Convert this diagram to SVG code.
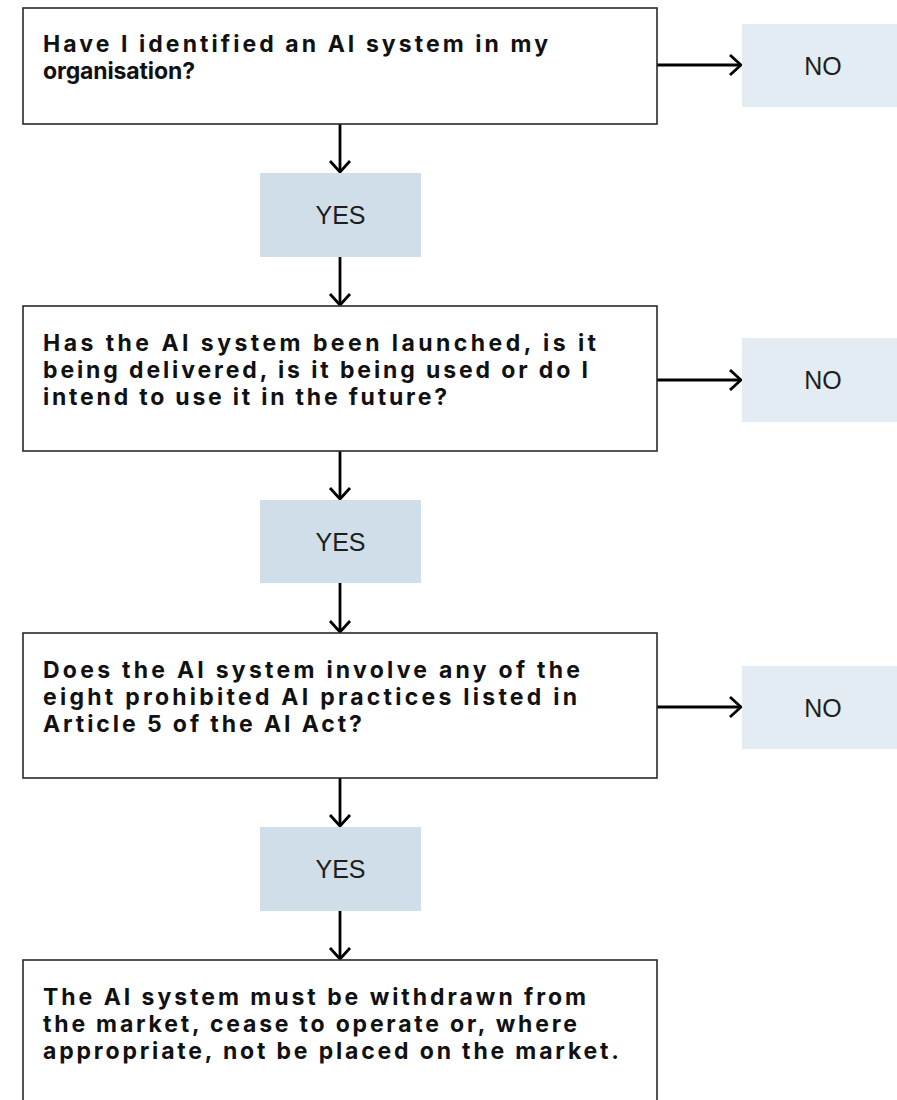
<svg xmlns="http://www.w3.org/2000/svg" width="897" height="1100" viewBox="0 0 897 1100">
<style>
.q{fill:#fff;stroke:#2a2a2a;stroke-width:1.6}
.yes{fill:#cfdee8}
.no{fill:#e4ecf3}
.qt{font-family:Inter,"Liberation Sans",sans-serif;font-weight:700;font-size:23px;fill:#111}
.lb{font-family:"Liberation Sans",Arial,sans-serif;font-size:25px;fill:#1e1e1e;text-anchor:middle}
.c{fill:none;stroke:#000;stroke-width:2.8}
</style>
<defs>
<marker id="ah" markerWidth="14" markerHeight="24" viewBox="-12 -11 14 22" refX="0" refY="0" orient="auto" markerUnits="userSpaceOnUse">
<path d="M-11,-10 L0,0 L-11,10" fill="none" stroke="#000" stroke-width="2.8"/>
</marker>
</defs>
<g id="connectors">
<path class="c" d="M340,124 V172" marker-end="url(#ah)"/>
<path class="c" d="M340,257 V305" marker-end="url(#ah)"/>
<path class="c" d="M340,451 V499" marker-end="url(#ah)"/>
<path class="c" d="M340,583 V632" marker-end="url(#ah)"/>
<path class="c" d="M340,778 V826" marker-end="url(#ah)"/>
<path class="c" d="M340,911 V959" marker-end="url(#ah)"/>
<path class="c" d="M657,65 H741" marker-end="url(#ah)"/>
<path class="c" d="M657,380 H741" marker-end="url(#ah)"/>
<path class="c" d="M657,707 H741" marker-end="url(#ah)"/>
</g>
<g id="q1">
<rect class="q" x="23" y="8" width="634" height="116"/>
<text class="qt" x="43" y="52" textLength="505">Have I identified an AI system in my</text>
<text class="qt" x="43" y="79" textLength="152">organisation?</text>
</g>
<g id="no1">
<rect class="no" x="742" y="24" width="162" height="83"/>
<text class="lb" x="823" y="74.5">NO</text>
</g>
<g id="yes1">
<rect class="yes" x="260" y="173" width="161" height="84"/>
<text class="lb" x="340.5" y="224">YES</text>
</g>
<g id="q2">
<rect class="q" x="23" y="306" width="634" height="145"/>
<text class="qt" x="43" y="351" textLength="553">Has the AI system been launched, is it</text>
<text class="qt" x="43" y="378" textLength="545">being delivered, is it being used or do I</text>
<text class="qt" x="43" y="405" textLength="404">intend to use it in the future?</text>
</g>
<g id="no2">
<rect class="no" x="742" y="338" width="162" height="84"/>
<text class="lb" x="823" y="389">NO</text>
</g>
<g id="yes2">
<rect class="yes" x="260" y="500" width="161" height="83"/>
<text class="lb" x="340.5" y="550.5">YES</text>
</g>
<g id="q3">
<rect class="q" x="23" y="633" width="634" height="145"/>
<text class="qt" x="43" y="678" textLength="537">Does the AI system involve any of the</text>
<text class="qt" x="43" y="705" textLength="534">eight prohibited AI practices listed in</text>
<text class="qt" x="43" y="732" textLength="319">Article 5 of the AI Act?</text>
</g>
<g id="no3">
<rect class="no" x="742" y="666" width="162" height="83"/>
<text class="lb" x="823" y="716.5">NO</text>
</g>
<g id="yes3">
<rect class="yes" x="260" y="827" width="161" height="84"/>
<text class="lb" x="340.5" y="878">YES</text>
</g>
<g id="result">
<rect class="q" x="23" y="960" width="634" height="160"/>
<text class="qt" x="43" y="1005" textLength="543">The AI system must be withdrawn from</text>
<text class="qt" x="43" y="1032" textLength="534">the market, cease to operate or, where</text>
<text class="qt" x="43" y="1059" textLength="576">appropriate, not be placed on the market.</text>
</g>
</svg>
